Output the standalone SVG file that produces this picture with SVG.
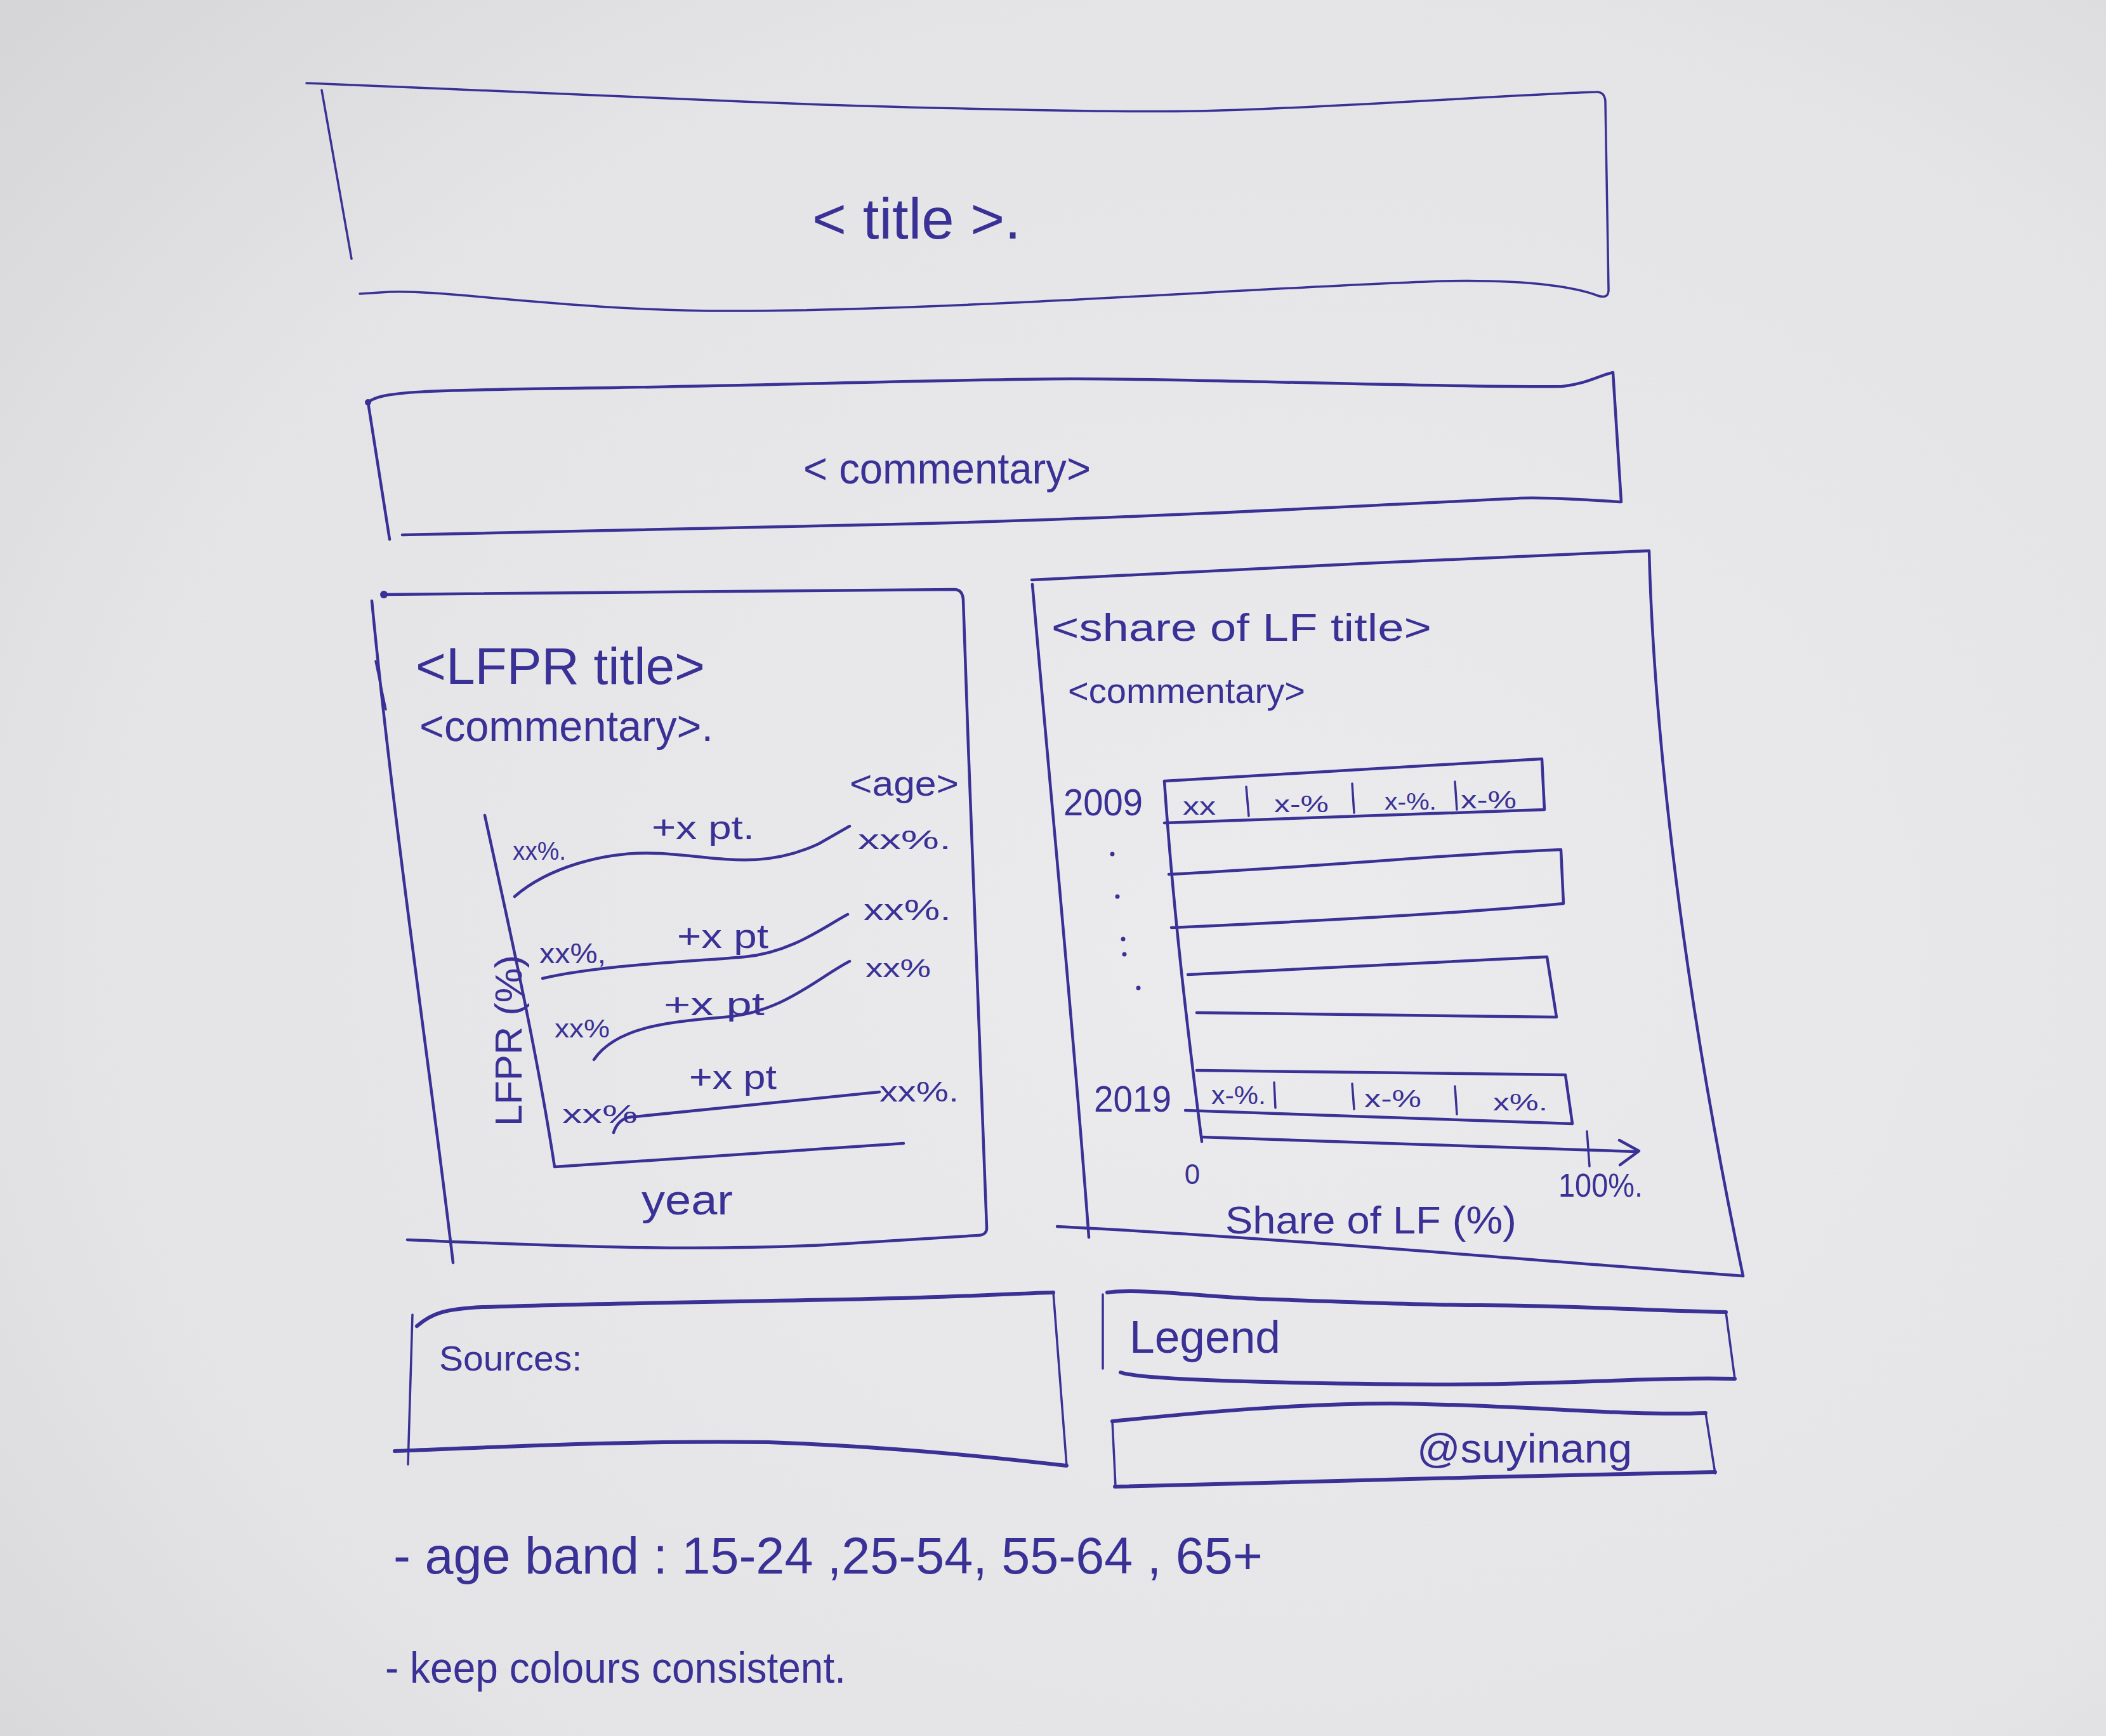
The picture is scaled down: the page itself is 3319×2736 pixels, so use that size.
<svg xmlns="http://www.w3.org/2000/svg" width="3319" height="2736" viewBox="0 0 3319 2736">
  <defs>
    <radialGradient id="paper" cx="0.6" cy="0.55" r="0.8">
      <stop offset="0" stop-color="#ebebed"/>
      <stop offset="0.7" stop-color="#e4e4e6"/>
      <stop offset="1" stop-color="#d6d6d8"/>
    </radialGradient>
  </defs>
  <style>
    .ink { fill: none; stroke: #3a3196; stroke-linecap: round; stroke-linejoin: round; }
    .thin { stroke-width: 3.5; }
    .med { stroke-width: 4.5; }
    .thick { stroke-width: 6; }
    .hand { font-family: "Liberation Sans", "DejaVu Sans", sans-serif; fill: #3a3196; }
    .dot { fill: #3a3196; }
  </style>

  <!-- sheet -->
  <rect x="0" y="0" width="3319" height="2736" fill="url(#paper)"/>

  <!-- page title block -->
  <g id="title">
    <path class="ink thin" d="M483,131 C700,140 950,150 1123,158 S1700,178 1886,175 S2400,148 2515,145 Q2529,144 2530,160 L2535,455 Q2536,472 2518,466 C2490,455 2420,440 2274,443 C2000,452 1500,490 1150,490 C900,490 700,456 614,460 L567,463"/>
    <path class="ink thin" d="M507,142 L554,408"/>
    <text class="hand" x="1280" y="376" font-size="90" textLength="329" lengthAdjust="spacingAndGlyphs">&lt; title &gt;.</text>
  </g>

  <!-- page commentary block -->
  <g id="commentary">
    <path class="ink med" d="M580,634 C600,618 650,615 900,612 S1500,598 1685,597 S2300,612 2462,609 C2500,605 2520,592 2542,587 L2555,791 C2500,788 2420,782 2381,786 C2100,800 1700,820 1417,826 C1000,835 700,842 634,843"/>
    <path class="ink med" d="M580,634 L614,850"/>
    <circle class="dot" cx="580" cy="634" r="5"/>
    <text class="hand" x="1266" y="762" font-size="68" textLength="453" lengthAdjust="spacingAndGlyphs">&lt; commentary&gt;</text>
  </g>

  <!-- LFPR line chart panel -->
  <g id="lfpr-panel">
    <path class="ink med" d="M605,937 C900,935 1200,932 1505,929 Q1517,930 1518,945 C1530,1300 1545,1700 1555,1934 Q1556,1946 1542,1947 C1500,1950 1400,1956 1300,1962 C1100,1972 900,1965 642,1954"/>
    <path class="ink med" d="M586,947 C620,1300 680,1700 714,1990"/>
    <path class="ink thin" d="M592,1042 L608,1118"/>
    <circle class="dot" cx="605" cy="937" r="6"/>
    <text class="hand" x="655" y="1078" font-size="82" textLength="456" lengthAdjust="spacingAndGlyphs">&lt;LFPR title&gt;</text>
    <text class="hand" x="661" y="1168" font-size="68" textLength="463" lengthAdjust="spacingAndGlyphs">&lt;commentary&gt;.</text>
    <text class="hand" x="1339" y="1254" font-size="56" textLength="172" lengthAdjust="spacingAndGlyphs">&lt;age&gt;</text>
    <!-- axes -->
    <path class="ink med" d="M764,1285 C800,1450 845,1650 874,1839 L1424,1802"/>
    <!-- age lines -->
    <path class="ink med" d="M811,1413 C860,1370 950,1340 1040,1345 S1200,1372 1290,1330 L1339,1302"/>
    <path class="ink med" d="M855,1542 C950,1520 1100,1515 1174,1508 S1300,1460 1336,1441"/>
    <path class="ink med" d="M936,1670 C970,1620 1050,1610 1142,1603 S1290,1540 1339,1515"/>
    <path class="ink med" d="M967,1785 Q975,1760 1000,1760 L1386,1721"/>
    <!-- start values -->
    <text class="hand" x="808" y="1355" font-size="40" textLength="84" lengthAdjust="spacingAndGlyphs">xx%.</text>
    <text class="hand" x="850" y="1518" font-size="44" textLength="105" lengthAdjust="spacingAndGlyphs">xx%,</text>
    <text class="hand" x="874" y="1635" font-size="40" textLength="87" lengthAdjust="spacingAndGlyphs">xx%</text>
    <text class="hand" x="886" y="1770" font-size="40" textLength="119" lengthAdjust="spacingAndGlyphs">xx%</text>
    <!-- changes -->
    <text class="hand" x="1027" y="1322" font-size="52" textLength="162" lengthAdjust="spacingAndGlyphs">+x pt.</text>
    <text class="hand" x="1067" y="1494" font-size="54" textLength="144" lengthAdjust="spacingAndGlyphs">+x pt</text>
    <text class="hand" x="1046" y="1600" font-size="50" textLength="159" lengthAdjust="spacingAndGlyphs">+x pt</text>
    <text class="hand" x="1086" y="1716" font-size="54" textLength="138" lengthAdjust="spacingAndGlyphs">+x pt</text>
    <!-- end values -->
    <text class="hand" x="1352" y="1338" font-size="42" textLength="147" lengthAdjust="spacingAndGlyphs">xx%.</text>
    <text class="hand" x="1361" y="1450" font-size="46" textLength="138" lengthAdjust="spacingAndGlyphs">xx%.</text>
    <text class="hand" x="1364" y="1540" font-size="40" textLength="103" lengthAdjust="spacingAndGlyphs">xx%</text>
    <text class="hand" x="1386" y="1736" font-size="44" textLength="125" lengthAdjust="spacingAndGlyphs">xx%.</text>
    <!-- axis titles -->
    <text class="hand" transform="translate(822,1640) rotate(-90)" x="0" y="0" font-size="60" text-anchor="middle" textLength="270" lengthAdjust="spacingAndGlyphs">LFPR (%)</text>
    <text class="hand" x="1011" y="1914" font-size="66" textLength="144" lengthAdjust="spacingAndGlyphs">year</text>
  </g>

  <!-- share of labour force bar chart panel -->
  <g id="share-panel">
    <path class="ink med" d="M1626,914 C1900,900 2300,880 2599,868 C2605,1100 2640,1500 2747,2011"/>
    <path class="ink med" d="M1666,1933 C2000,1950 2400,1985 2747,2011"/>
    <path class="ink med" d="M1627,921 C1660,1300 1690,1600 1716,1950"/>
    <text class="hand" x="1657" y="1010" font-size="62" textLength="599" lengthAdjust="spacingAndGlyphs">&lt;share of LF title&gt;</text>
    <text class="hand" x="1683" y="1108" font-size="56" textLength="374" lengthAdjust="spacingAndGlyphs">&lt;commentary&gt;</text>
    <!-- axes -->
    <path class="ink med" d="M1835,1231 C1850,1450 1875,1650 1894,1799"/>
    <path class="ink med" d="M1894,1792 C2100,1800 2400,1808 2580,1815"/>
    <path class="ink med" d="M2552,1797 L2583,1814 L2553,1836"/>
    <path class="ink thin" d="M2501,1783 L2505,1838"/>
    <!-- bars -->
    <path class="ink med" d="M1835,1231 L2430,1196 L2434,1276 L1835,1297"/>
    <path class="ink med" d="M1842,1378 C2100,1365 2300,1345 2460,1339 L2464,1424 C2300,1440 2000,1455 1846,1462"/>
    <path class="ink med" d="M1872,1536 L2438,1508 L2453,1603 L1886,1596"/>
    <path class="ink med" d="M1886,1687 L2467,1694 L2478,1771 L1868,1750"/>
    <!-- segment dividers -->
    <path class="ink thin" d="M1964,1240 L1968,1286 M2131,1235 L2134,1281 M2293,1232 L2296,1276"/>
    <path class="ink thin" d="M2008,1706 L2010,1746 M2131,1708 L2134,1748 M2293,1712 L2296,1756"/>
    <!-- segment values -->
    <text class="hand" x="1864" y="1284" font-size="38" textLength="52" lengthAdjust="spacingAndGlyphs">xx</text>
    <text class="hand" x="2008" y="1280" font-size="36" textLength="86" lengthAdjust="spacingAndGlyphs">x-%</text>
    <text class="hand" x="2182" y="1276" font-size="36" textLength="82" lengthAdjust="spacingAndGlyphs">x-%.</text>
    <text class="hand" x="2302" y="1274" font-size="38" textLength="88" lengthAdjust="spacingAndGlyphs">x-%</text>
    <text class="hand" x="1909" y="1740" font-size="40" textLength="86" lengthAdjust="spacingAndGlyphs">x-%.</text>
    <text class="hand" x="2150" y="1745" font-size="38" textLength="90" lengthAdjust="spacingAndGlyphs">x-%</text>
    <text class="hand" x="2353" y="1750" font-size="36" textLength="86" lengthAdjust="spacingAndGlyphs">x%.</text>
    <!-- year labels and elided years -->
    <text class="hand" x="1676" y="1285" font-size="60" textLength="125" lengthAdjust="spacingAndGlyphs">2009</text>
    <text class="hand" x="1724" y="1752" font-size="58" textLength="122" lengthAdjust="spacingAndGlyphs">2019</text>
    <circle class="dot" cx="1753" cy="1346" r="3.5"/>
    <circle class="dot" cx="1761" cy="1413" r="3.5"/>
    <circle class="dot" cx="1770" cy="1480" r="3.5"/>
    <circle class="dot" cx="1772" cy="1504" r="3.5"/>
    <circle class="dot" cx="1794" cy="1557" r="3.5"/>
    <!-- x-axis labels -->
    <text class="hand" x="1879" y="1866" font-size="44" text-anchor="middle">0</text>
    <text class="hand" x="2456" y="1886" font-size="52" textLength="133" lengthAdjust="spacingAndGlyphs">100%.</text>
    <text class="hand" x="1931" y="1944" font-size="62" textLength="459" lengthAdjust="spacingAndGlyphs">Share of LF (%)</text>
  </g>

  <!-- sources block -->
  <g id="sources">
    <path class="ink thick" d="M657,2090 C680,2070 700,2063 760,2060 C1000,2052 1300,2050 1450,2045 C1550,2042 1620,2038 1660,2037"/>
    <path class="ink thin" d="M1660,2037 L1681,2310"/>
    <path class="ink thick" d="M622,2287 C800,2280 1000,2270 1211,2273 C1400,2280 1550,2295 1681,2310"/>
    <path class="ink thin" d="M650,2072 L643,2308"/>
    <text class="hand" x="692" y="2160" font-size="56" textLength="225" lengthAdjust="spacingAndGlyphs">Sources:</text>
  </g>

  <!-- legend block -->
  <g id="legend">
    <path class="ink thick" d="M1745,2037 C1800,2030 1900,2044 1983,2047 C2150,2053 2250,2057 2334,2057 C2500,2058 2600,2066 2720,2068"/>
    <path class="ink thin" d="M2720,2068 L2734,2173"/>
    <path class="ink thick" d="M1766,2163 C1800,2175 2000,2180 2264,2182 C2450,2183 2600,2170 2734,2173"/>
    <path class="ink thin" d="M1738,2040 L1738,2157"/>
    <text class="hand" x="1780" y="2132" font-size="72" textLength="238" lengthAdjust="spacingAndGlyphs">Legend</text>
  </g>

  <!-- credit block -->
  <g id="credit">
    <path class="ink thick" d="M1753,2240 C1900,2225 2050,2212 2193,2212 C2400,2214 2550,2232 2688,2227"/>
    <path class="ink thin" d="M2688,2227 L2703,2322"/>
    <path class="ink thick" d="M1757,2343 C2000,2338 2400,2325 2703,2320"/>
    <path class="ink thin" d="M1753,2240 L1758,2342"/>
    <text class="hand" x="2233" y="2305" font-size="64" textLength="339" lengthAdjust="spacingAndGlyphs">@suyinang</text>
  </g>

  <!-- notes -->
  <g id="notes">
    <text class="hand" x="620" y="2480" font-size="82" textLength="1370" lengthAdjust="spacingAndGlyphs">- age band : 15-24 ,25-54, 55-64 , 65+</text>
    <text class="hand" x="607" y="2652" font-size="68" textLength="726" lengthAdjust="spacingAndGlyphs">- keep colours consistent.</text>
  </g>
</svg>
